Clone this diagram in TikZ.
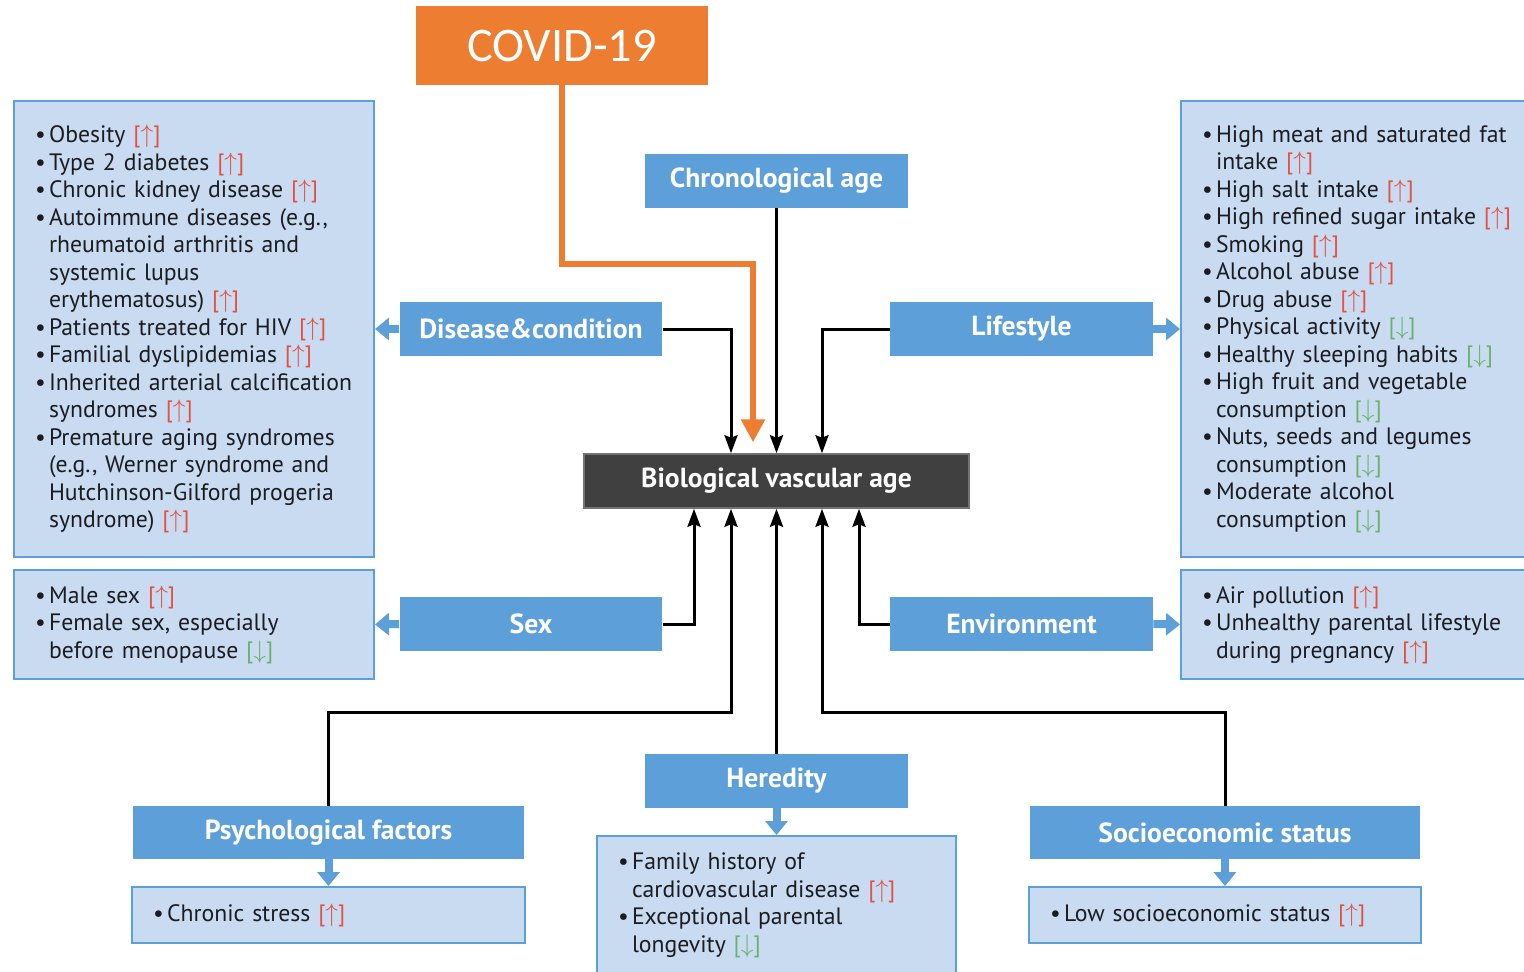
\documentclass[tikz,border=0pt]{standalone}
\usepackage{fontspec}
\setmainfont{PT Sans}
\newfontfamily\covidfont{Carlito}
\usetikzlibrary{calc,arrows.meta}

\definecolor{hblue}{RGB}{93,160,217}
\definecolor{lblue}{RGB}{200,219,241}
\definecolor{darkbox}{RGB}{64,64,64}
\definecolor{covidorange}{RGB}{237,125,49}
\definecolor{upred}{RGB}{229,80,66}
\definecolor{downgreen}{RGB}{106,178,106}
\definecolor{textdark}{RGB}{28,28,32}

\newcommand{\itm}{\makebox[0.28cm][l]{\textbullet}}
\newcommand{\cnt}{\hspace*{0.28cm}}
\newcommand{\incr}{{\color{upred}[$\uparrow$]}}
\newcommand{\decr}{{\color{downgreen}[$\downarrow$]}}

\tikzset{
  hdr/.style={fill=hblue, text=white, font=\fontsize{15.7}{18}\selectfont\bfseries,
    minimum width=5.26cm, minimum height=1.08cm, inner sep=0pt},
  lbox/.style={fill=lblue, draw=hblue, line width=0.04cm, align=left, inner xsep=0.42cm,
    text=textdark, font=\fontsize{13.5}{15.65}\selectfont},
  conn/.style={line width=0.06cm, -{Stealth[length=0.36cm,width=0.26cm,inset=0.05cm]}},
  barr/.style={draw=hblue, line width=0.16cm, -{Triangle[length=0.28cm,width=0.44cm]}},
}

\begin{document}
\begin{tikzpicture}[x=0.02cm,y=-0.02cm,line join=miter]
  \useasboundingbox (0,0) rectangle (1524,971);
  % central box
  \node[fill=darkbox, draw=black!55, line width=0.03cm, text=white,
    font=\fontsize{15.7}{18}\selectfont\bfseries, minimum width=7.7cm,
    minimum height=1.08cm, inner sep=0pt] (bio) at (776.5,481) {Biological vascular age};
  % factor boxes
  \node[hdr] (chron) at (776.5,181) {Chronological age};
  \node[hdr] (disease) at (531,329) {Disease\&condition};
  \node[hdr] (life) at (1021.5,329) {Lifestyle};
  \node[hdr] (sex) at (531,624) {Sex};
  \node[hdr] (env) at (1021.5,624) {Environment};
  \node[hdr] (hered) at (776.5,781) {Heredity};
  \node[hdr, minimum width=7.82cm, minimum height=1.06cm] (psych) at (328.5,832.5) {Psychological factors};
  \node[hdr, minimum width=7.8cm, minimum height=1.06cm] (ses) at (1225,832.5) {Socioeconomic status};
  % COVID-19
  \node[fill=covidorange, text=white, font=\covidfont\fontsize{27.5}{32}\selectfont,
    minimum width=5.84cm, minimum height=1.58cm, inner sep=0pt] (covid) at (562,45.5) {COVID-19};

  % lists
  \node[lbox, text width=6.36cm, minimum height=9.12cm] (dlist) at (194,329) {%
    \itm Obesity \incr\\
    \itm Type 2 diabetes \incr\\
    \itm Chronic kidney disease \incr\\
    \itm Autoimmune diseases (e.g.,\\
    \cnt rheumatoid arthritis and\\
    \cnt systemic lupus\\
    \cnt erythematosus) \incr\\
    \itm Patients treated for HIV \incr\\
    \itm Familial dyslipidemias \incr\\
    \itm Inherited arterial calcification\\
    \cnt syndromes \incr\\
    \itm Premature aging syndromes\\
    \cnt (e.g., Werner syndrome and\\
    \cnt Hutchinson-Gilford progeria\\
    \cnt syndrome) \incr};
  \node[lbox, text width=6.36cm, minimum height=2.18cm] (slist) at (194,624.5) {%
    \itm Male sex \incr\\
    \itm Female sex, especially\\
    \cnt before menopause \decr};
  \node[lbox, text width=6.34cm, minimum height=9.12cm] (llist) at (1360.5,329) {%
    \itm High meat and saturated fat\\
    \cnt intake \incr\\
    \itm High salt intake \incr\\
    \itm High refined sugar intake \incr\\
    \itm Smoking \incr\\
    \itm Alcohol abuse \incr\\
    \itm Drug abuse \incr\\
    \itm Physical activity \decr\\
    \itm Healthy sleeping habits \decr\\
    \itm High fruit and vegetable\\
    \cnt consumption \decr\\
    \itm Nuts, seeds and legumes\\
    \cnt consumption \decr\\
    \itm Moderate alcohol\\
    \cnt consumption \decr};
  \node[lbox, text width=6.34cm, minimum height=2.18cm] (elist) at (1360.5,624.5) {%
    \itm Air pollution \incr\\
    \itm Unhealthy parental lifestyle\\
    \cnt during pregnancy \incr};
  \node[lbox, text width=7.02cm, minimum height=1.12cm] (stress) at (328.5,915) {%
    \itm Chronic stress \incr};
  \node[lbox, text width=6.34cm, minimum height=2.78cm] (hlist) at (776.5,905.5) {%
    \itm Family history of\\
    \cnt cardiovascular disease \incr\\
    \itm Exceptional parental\\
    \cnt longevity \decr};
  \node[lbox, text width=7.0cm, minimum height=1.12cm] (lowses) at (1225,915) {%
    \itm Low socioeconomic status \incr};

  % blue arrows to the lists
  \draw[barr] (disease.west) -- (dlist.east);
  \draw[barr] (sex.west) -- (slist.east);
  \draw[barr] (life.east) -- (llist.west);
  \draw[barr] (env.east) -- (elist.west);
  \draw[barr] (hered.south) -- (hlist.north);
  \draw[barr] (psych.south) -- (stress.north);
  \draw[barr] (ses.south) -- (lowses.north);

  % arrows into the top
  \draw[conn] (chron.south) -- (bio.north);
  \draw[conn] (disease.east) -| ($(bio.north)+(-45.5,0)$);
  \draw[conn] (life.west) -| ($(bio.north)+(45.5,0)$);
  \draw[covidorange, line width=0.12cm, shorten >=0.22cm,
    -{Triangle[length=0.46cm,width=0.46cm]}]
    (covid.south) |- ($(bio.north)+(-23.5,-189)$) -- ($(bio.north)+(-23.5,0)$);
  % arrows into the bottom
  \draw[conn] (sex.east) -| ($(bio.south)+(-82.5,0)$);
  \draw[conn] (env.west) -| ($(bio.south)+(82.5,0)$);
  \draw[conn] (hered.north) -- (bio.south);
  \draw[conn] (psych.north) |- ($(bio.south)+(-45.5,204)$) -- ($(bio.south)+(-45.5,0)$);
  \draw[conn] (ses.north) |- ($(bio.south)+(45.5,204)$) -- ($(bio.south)+(45.5,0)$);
\end{tikzpicture}
\end{document}
